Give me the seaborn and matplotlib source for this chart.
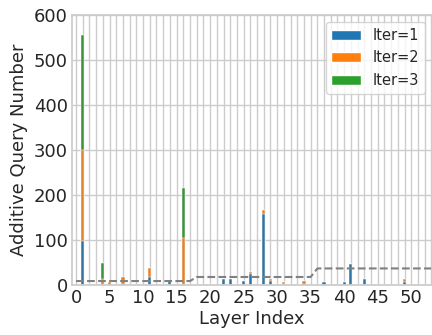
import matplotlib
matplotlib.use("Agg")
import matplotlib.pyplot as plt
from matplotlib.patches import Patch
import numpy as np
import pandas as pd
import seaborn as sns

layers = list(range(54))
iter1 = [0, 98, 0, 0, 0, 0, 0, 3, 0, 0,
         0, 18, 0, 0, 8, 0, 0, 0, 0, 0,
         0, 0, 13, 13, 0, 9, 24, 0, 158, 9,
         0, 3, 0, 0, 3, 0, 0, 7, 0, 0,
         7, 46, 0, 14, 0, 0, 0, 0, 0, 6,
         0, 0, 0, 0]
iter2 = [0, 202, 0, 0, 14, 6, 0, 15, 0, 0,
         0, 19, 0, 0, 0, 0, 104, 0, 0, 0,
         2, 0, 0, 0, 0, 0, 5, 0, 9, 4,
         0, 4, 0, 0, 7, 0, 0, 0, 0, 0,
         0, 0, 0, 0, 0, 0, 0, 0, 0, 8,
         0, 0, 0, 0]
iter3 = [0, 255, 0, 0, 34, 0, 0, 0, 0, 0,
         0, 0, 0, 0, 0, 0, 112, 0, 0, 0,
         0, 0, 0, 0, 0, 0, 0, 0, 0, 0,
         0, 0, 0, 0, 0, 0, 0, 0, 0, 0,
         0, 0, 0, 0, 0, 0, 0, 0, 0, 0,
         0, 0, 0, 0]
threshold = [9] * 18 + [18] * 18 + [37] * 18
series_labels = ["Iter=1", "Iter=2", "Iter=3"]

df = pd.DataFrame({"layer": layers, "i1": iter1, "i2": iter2, "i3": iter3,
                   "thr": threshold})
df["c1"] = df["i1"]
df["c2"] = df["i1"] + df["i2"]
df["c3"] = df["c2"] + df["i3"]

sns.set_theme(style="whitegrid")
plt.rcParams["font.family"] = ["DejaVu Sans"]
colors = sns.color_palette("tab10", 3)

fig = plt.figure(figsize=(4.32, 3.35), dpi=100)
ax = fig.add_axes([0.1667, 0.149, 0.8333, 0.806])

bar_kw = dict(width=0.48, edgecolor="white", linewidth=0.35, order=layers)
sns.barplot(data=df, x="layer", y="c3", color=colors[2], ax=ax, **bar_kw)
sns.barplot(data=df, x="layer", y="c2", color=colors[1], ax=ax, **bar_kw)
sns.barplot(data=df, x="layer", y="c1", color=colors[0], ax=ax, **bar_kw)
for p in ax.patches:
    p.set_alpha(1.0)

ax.plot(df.index, df["thr"], color="gray", linestyle="--", linewidth=1.5)

ax.set_xlim(-0.6, 53.1)
ax.set_ylim(0, 600)
ax.set_yticks(range(0, 601, 100))
ax.set_xticks(range(0, 54, 5))
ax.set_xticklabels([str(i) for i in range(0, 54, 5)])
ax.set_xticks(range(54), minor=True)
ax.grid(True, which="both", axis="x", color=".8", linewidth=1)
ax.grid(True, which="major", axis="y", color=".8", linewidth=1)
ax.tick_params(axis="both", which="both", labelsize=13, length=0, pad=3)
ax.set_xlabel("Layer Index", fontsize=13, labelpad=2)
ax.set_ylabel("Additive Query Number", fontsize=13)

handles = [Patch(facecolor=c, label=l) for c, l in zip(colors, series_labels)]
ax.legend(handles=handles, loc="upper right", fontsize=10.5)

fig.savefig("out.png", dpi=100)
